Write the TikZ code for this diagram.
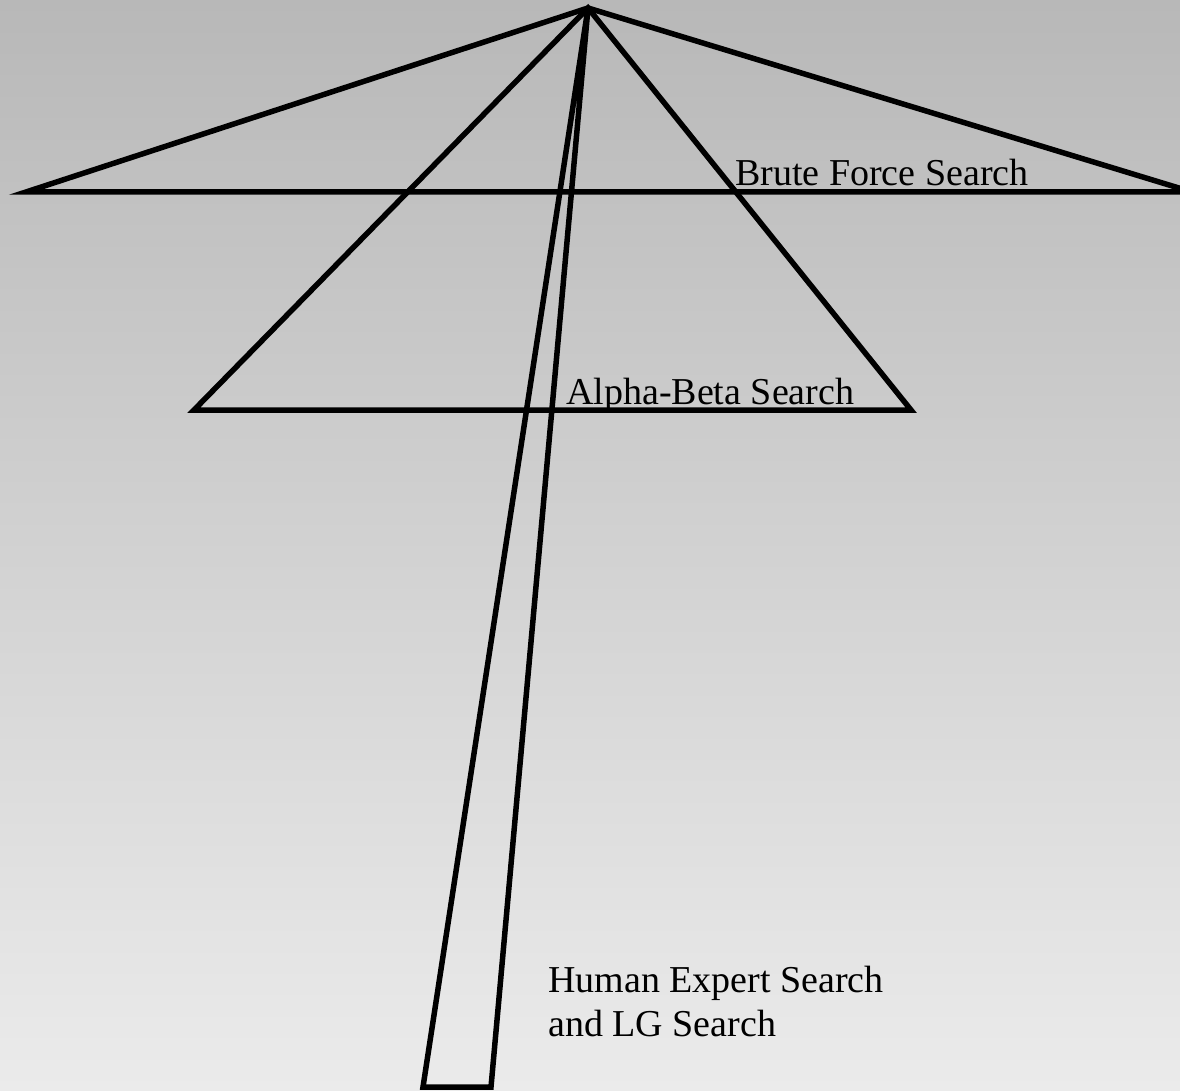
\documentclass[tikz,border=0pt]{standalone}
\usepackage{fontspec}
\setmainfont{Liberation Serif}
\usepackage{tikz}
\usetikzlibrary{positioning}
\definecolor{skytop}{RGB}{184,184,184}
\definecolor{skybottom}{RGB}{235,235,235}
\tikzset{
  tree/.style={draw=black,line width=5.5pt,line join=miter},
  label/.style={anchor=base west,inner sep=0pt,align=left,font=\fontsize{38}{44}\selectfont}
}

\begin{document}
\begin{tikzpicture}[x=1pt,y=-1pt]
  \shade[top color=skytop,bottom color=skybottom] (0,0) rectangle (1180,1091);
  \useasboundingbox (0,0) rectangle (1180,1091);
  \coordinate (root) at (588,8);
  % brute force
  \coordinate (bfL) at (26,192);
  \coordinate (bfR) at (1192,192);
  % alpha-beta
  \coordinate (abL) at (194,410);
  \coordinate (abR) at (911,410);
  % human expert
  \coordinate (heL) at (423,1087);
  \coordinate (heR) at (491,1087);
  \begin{scope}
    \clip (0,0) rectangle (1180,1091);
    \draw[tree] (root)--(bfL)--(bfR)--cycle;
    \draw[tree] (root)--(abL)--(abR)--cycle;
    \draw[tree] (root)--(heL)--(heR)--cycle;
  \end{scope}
  \node[label] (bf) at (735,186) {Brute Force Search};
  \node[label] (ab) at (566,404) {Alpha-Beta Search};
  \node[label] (he) at (548,1036) {Human Expert Search\\and LG Search};
\end{tikzpicture}
\end{document}
